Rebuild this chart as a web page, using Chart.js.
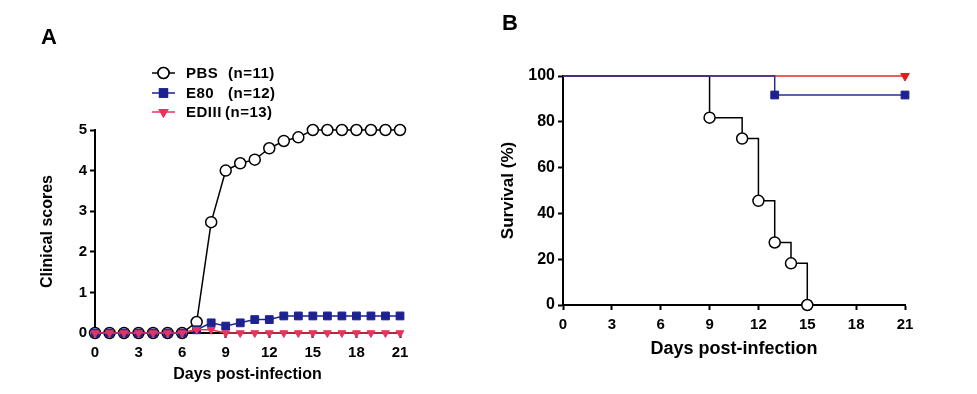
<!DOCTYPE html>
<html>
<head>
<meta charset="utf-8">
<script src="https://cdn.jsdelivr.net/npm/chart.js@4.4.1/dist/chart.umd.min.js"></script>
<style>
  body { margin: 0; background: #fff; font-family: "Liberation Sans", Arial, sans-serif; }
  #page { position: relative; width: 977px; height: 394px; overflow: hidden; }
  .panel { position: absolute; top: 0; }
  .tag { position: absolute; font-weight: bold; font-size: 22px; color: #000; line-height: 1; }
</style>
</head>
<body>
<div id="page">
  <div class="panel" style="left:0"><canvas id="chartA" width="480" height="394"></canvas></div>
  <div class="panel" style="left:480px"><canvas id="chartB" width="497" height="394"></canvas></div>
  <div class="tag" style="left:41px;top:26px">A</div>
  <div class="tag" style="left:502px;top:12px">B</div>
</div>
<script>
// ---- panel A : clinical scores ----
const days = [0, 1, 2, 3, 4, 5, 6, 7, 8, 9, 10, 11, 12, 13, 14, 15, 16, 17, 18, 19, 20, 21];
const pbsScore = [0, 0, 0, 0, 0, 0, 0, 0.27, 2.73, 4.0, 4.18, 4.27, 4.55, 4.73, 4.82, 5, 5, 5, 5, 5, 5, 5];
const e80Score = [0, 0, 0, 0, 0, 0, 0, 0.08, 0.25, 0.17, 0.25, 0.33, 0.33, 0.42, 0.42, 0.42, 0.42, 0.42, 0.42, 0.42, 0.42, 0.42];
const ediiiScore = [0, 0, 0, 0, 0, 0, 0, 0.08, 0.08, 0, 0, 0, 0, 0, 0, 0, 0, 0, 0, 0, 0, 0];

// ---- panel B : survival ----
const pbsSurvDays = [0, 9, 11, 12, 13, 14, 15];
const pbsSurv = [100, 81.8, 72.7, 45.5, 27.3, 18.2, 0];
const e80SurvDays = [0, 13, 21];
const e80Surv = [100, 91.7, 91.7];
const ediiiSurvDays = [0, 21];
const ediiiSurv = [100, 100];

const labelsA = ["PBS", "E80", "EDIII"];
const countsA = ["(n=11)", "(n=12)", "(n=13)"];
const xTicks = [0, 3, 6, 9, 12, 15, 18, 21];

const FONT = '"Liberation Sans", Arial, sans-serif';
const NAVY = "#1e2190";
const PINK = "#e8345c";

const toXY = (xs, ys) => xs.map((x, i) => ({ x: x, y: ys[i] }));

// axes like GraphPad: only lines + tick marks, no grid
const axis = (min, max, step, tickSize, tickPad, title, titleSize, fit) => ({
  type: "linear",
  min: min,
  max: max,
  afterBuildTicks: (s) => {
    if (max === 21) s.ticks = xTicks.map((v) => ({ value: v }));
  },
  ticks: { stepSize: step, color: "#000", padding: tickPad, font: { family: FONT, size: tickSize, weight: "bold" } },
  grid: { drawOnChartArea: false, drawTicks: true, tickLength: 5, tickWidth: 2, tickColor: "#000" },
  border: { color: "#000", width: 2 },
  title: { display: true, text: title, color: "#000", padding: 4, font: { family: FONT, size: titleSize, weight: "bold" } },
  afterFit: fit,
});

// legend for panel A drawn as line + marker like the original
const legendA = {
  id: "legendA",
  afterDraw(chart) {
    const ctx = chart.ctx;
    const rows = [73, 93, 112];
    const countX = [228, 228, 225];
    ctx.save();
    rows.forEach((y, i) => {
      const ds = chart.data.datasets[i];
      ctx.strokeStyle = ds.borderColor;
      ctx.lineWidth = 1.5;
      ctx.beginPath();
      ctx.moveTo(152, y);
      ctx.lineTo(175, y);
      ctx.stroke();
      Chart.helpers.drawPoint(ctx, {
        pointStyle: ds.pointStyle,
        radius: ds.pointRadius,
        rotation: ds.pointRotation || 0,
        borderWidth: 1.5,
      }, 163.5, y);
      ctx.fillStyle = ds.pointBackgroundColor;
      ctx.strokeStyle = ds.pointBorderColor;
      ctx.lineWidth = 1.5;
      ctx.fill();
      ctx.stroke();
      ctx.fillStyle = "#000";
      ctx.font = "bold 15px " + FONT;
      ctx.letterSpacing = "0.5px";
      ctx.textBaseline = "middle";
      ctx.fillText(labelsA[i], 186, y + 1);
      ctx.fillText(countsA[i], countX[i], y + 1);
    });
    ctx.restore();
  },
};

new Chart(document.getElementById("chartA"), {
  type: "line",
  data: {
    datasets: [
      {
        label: labelsA[0] + " " + countsA[0],
        data: toXY(days, pbsScore),
        borderColor: "#000",
        borderWidth: 1.5,
        pointStyle: "circle",
        pointRadius: 5.5,
        pointBackgroundColor: "#fff",
        pointBorderColor: "#000",
        pointBorderWidth: 1.5,
        order: 3,
        clip: false,
      },
      {
        label: labelsA[1] + " " + countsA[1],
        data: toXY(days, e80Score),
        borderColor: NAVY,
        borderWidth: 1.5,
        pointStyle: "rect",
        pointRadius: 5.5,
        pointBackgroundColor: NAVY,
        pointBorderColor: NAVY,
        pointBorderWidth: 1,
        order: 2,
        clip: false,
      },
      {
        label: labelsA[2] + " " + countsA[2],
        data: toXY(days, ediiiScore),
        borderColor: PINK,
        borderWidth: 1.5,
        pointStyle: "triangle",
        pointRotation: 180,
        pointRadius: 4.5,
        pointBackgroundColor: PINK,
        pointBorderColor: PINK,
        pointBorderWidth: 1,
        order: 1,
        clip: false,
      },
    ],
  },
  options: {
    responsive: false,
    animation: false,
    layout: { padding: { left: 34, top: 130, right: 80, bottom: 6 } },
    scales: {
      x: axis(0, 21, 3, 15, 6, "Days post-infection", 16, (s) => { s.height = 55; }),
      y: axis(0, 5, 1, 15, 3, "Clinical scores", 16, (s) => { s.width = 61; }),
    },
    plugins: { legend: { display: false }, tooltip: { enabled: false } },
  },
  plugins: [legendA],
});

new Chart(document.getElementById("chartB"), {
  type: "line",
  data: {
    datasets: [
      {
        label: "PBS",
        data: toXY(pbsSurvDays, pbsSurv),
        stepped: "before",
        borderColor: "#000",
        borderWidth: 1.5,
        pointStyle: "circle",
        pointRadius: [0, 5.5, 5.5, 5.5, 5.5, 5.5, 5.5],
        pointBackgroundColor: "#fff",
        pointBorderColor: "#000",
        pointBorderWidth: 1.5,
        order: 3,
        clip: false,
      },
      {
        label: "E80",
        data: toXY(e80SurvDays, e80Surv),
        stepped: "before",
        borderColor: "#26308f",
        borderWidth: 1.5,
        pointStyle: "rect",
        pointRadius: [0, 5.5, 5.5],
        pointBackgroundColor: NAVY,
        pointBorderColor: NAVY,
        pointBorderWidth: 1,
        order: 1,
        clip: false,
      },
      {
        label: "EDIII",
        data: toXY(ediiiSurvDays, ediiiSurv),
        stepped: "before",
        borderColor: "#e02a2a",
        borderWidth: 1.5,
        pointStyle: "triangle",
        pointRotation: 180,
        pointRadius: [0, 5],
        pointBackgroundColor: "#e01e1e",
        pointBorderColor: "#e01e1e",
        pointBorderWidth: 1,
        order: 2,
        clip: false,
      },
    ],
  },
  options: {
    responsive: false,
    animation: false,
    layout: { padding: { left: 14, top: 76, right: 72, bottom: 30 } },
    scales: {
      x: axis(0, 21, 3, 15, 6, "Days post-infection", 18, (s) => { s.height = 59; }),
      y: axis(0, 100, 20, 16, 3, "Survival (%)", 17, (s) => { s.width = 69; }),
    },
    plugins: { legend: { display: false }, tooltip: { enabled: false } },
  },
});
</script>
</body>
</html>
